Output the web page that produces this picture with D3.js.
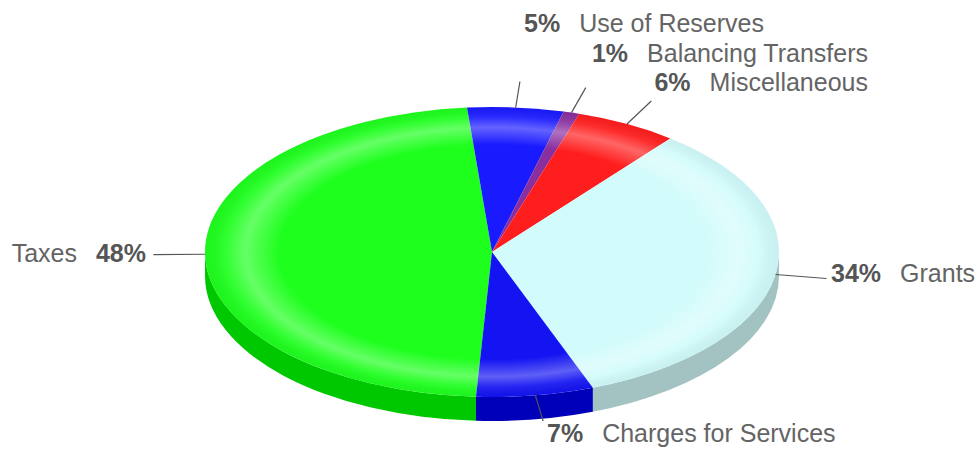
<!DOCTYPE html>
<html>
<head>
<meta charset="utf-8">
<script src="https://cdn.jsdelivr.net/npm/d3@7"></script>
<style>
  html, body { margin: 0; padding: 0; background: #ffffff; }
  svg { display: block; }
  text { font-family: "Liberation Sans", Arial, sans-serif; font-size: 25px; }
</style>
</head>
<body>
<svg id="chart" width="978" height="451"></svg>
<script>
// ---- data ----
const categories = ["Taxes", "Use of Reserves", "Balancing Transfers", "Miscellaneous", "Grants", "Charges for Services"];
const values     = [47.7, 5.4, 0.9, 5.75, 33.6, 6.6];
const topColors  = ["#1eff1e", "#1a1aff", "#8a2f9e", "#ff1e1e", "#d2fbfb", "#1414f2"];
const sideColors = ["#00c800", "#0000b8", "#5e1a70", "#c00000", "#a3c2c2", "#0000b8"];

// ---- geometry ----
const W = 978, H = 451;
const cx = 492, cy = 252, rx = 287, ry = 145, depth = 24;
const startDeg = 183.2;
const leaderScale = 1.18;

const svg = d3.select("#chart");
const defs = svg.append("defs");

const pie = d3.pie().sort(null).value(d => d)
  .startAngle(startDeg * Math.PI / 180)
  .endAngle(startDeg * Math.PI / 180 + 2 * Math.PI);
const arcs = pie(values);

const px = a => cx + rx * Math.sin(a);
const py = a => cy - ry * Math.cos(a);

function topPath(a0, a1) {
  const large = (a1 - a0) > Math.PI ? 1 : 0;
  return `M${cx},${cy}L${px(a0)},${py(a0)}A${rx},${ry} 0 ${large} 1 ${px(a1)},${py(a1)}Z`;
}
function sidePath(a0, a1) {
  return `M${px(a0)},${py(a0)}A${rx},${ry} 0 0 1 ${px(a1)},${py(a1)}` +
         `L${px(a1)},${py(a1) + depth}A${rx},${ry} 0 0 0 ${px(a0)},${py(a0) + depth}Z`;
}

// ---- sides (front half only: pi/2 .. 3pi/2) ----
const sideG = svg.append("g");
arcs.forEach((d, i) => {
  let a0 = d.startAngle, a1 = d.endAngle;
  if (a0 >= 2 * Math.PI) { a0 -= 2 * Math.PI; a1 -= 2 * Math.PI; }
  const s = Math.max(a0, Math.PI / 2), e = Math.min(a1, 3 * Math.PI / 2);
  if (e > s) {
    sideG.append("path").attr("d", sidePath(s, e)).attr("fill", sideColors[i]);
  }
});

// ---- top face ----
const topG = svg.append("g");
arcs.forEach((d, i) => {
  topG.append("path")
    .attr("d", topPath(d.startAngle, d.endAngle))
    .attr("fill", topColors[i]);
});

// rim highlight overlay
const rg = defs.append("radialGradient").attr("id", "rim")
  .attr("cx", "50%").attr("cy", "50%").attr("r", "50%");
[[0, "#ffffff", 0], [0.74, "#ffffff", 0], [0.86, "#ffffff", 0.32],
 [0.93, "#ffffff", 0.08], [1, "#000000", 0.04]].forEach(s => {
  rg.append("stop").attr("offset", s[0]).attr("stop-color", s[1]).attr("stop-opacity", s[2]);
});
svg.append("ellipse")
  .attr("cx", cx).attr("cy", cy).attr("rx", rx).attr("ry", ry)
  .attr("fill", "url(#rim)");

// ---- leader lines ----
const lineG = svg.append("g").attr("stroke", "#555").attr("stroke-width", 1.2);
arcs.forEach((d, i) => {
  const m = (d.startAngle + d.endAngle) / 2;
  const x0 = px(m), y0 = py(m);
  const x1 = cx + (x0 - cx) * leaderScale, y1 = cy + (y0 - cy) * leaderScale;
  lineG.append("line").attr("x1", x0).attr("y1", y0).attr("x2", x1).attr("y2", y1);
});

// ---- labels ----
const total = d3.sum(values);
const pct = i => Math.round(values[i] / total * 100) + "%";
// label layout: anchor position, text-anchor, and whether name comes first
const labelLayout = [
  { x: 146, y: 262, anchor: "end",   nameFirst: true  },
  { x: 764, y: 32,  anchor: "end",   nameFirst: false },
  { x: 868, y: 62,  anchor: "end",   nameFirst: false },
  { x: 868, y: 91,  anchor: "end",   nameFirst: false },
  { x: 831, y: 282, anchor: "start", nameFirst: false },
  { x: 547, y: 442, anchor: "start", nameFirst: false }
];
const labelG = svg.append("g");
categories.forEach((c, i) => {
  const L = labelLayout[i];
  const t = labelG.append("text").attr("x", L.x).attr("y", L.y).attr("text-anchor", L.anchor);
  if (L.nameFirst) {
    t.append("tspan").attr("fill", "#646464").text(c);
    t.append("tspan").attr("dx", 19).attr("font-weight", "bold").attr("fill", "#555555").text(pct(i));
  } else {
    t.append("tspan").attr("font-weight", "bold").attr("fill", "#555555").text(pct(i));
    t.append("tspan").attr("dx", 19).attr("fill", "#646464").text(c);
  }
});
</script>
</body>
</html>
